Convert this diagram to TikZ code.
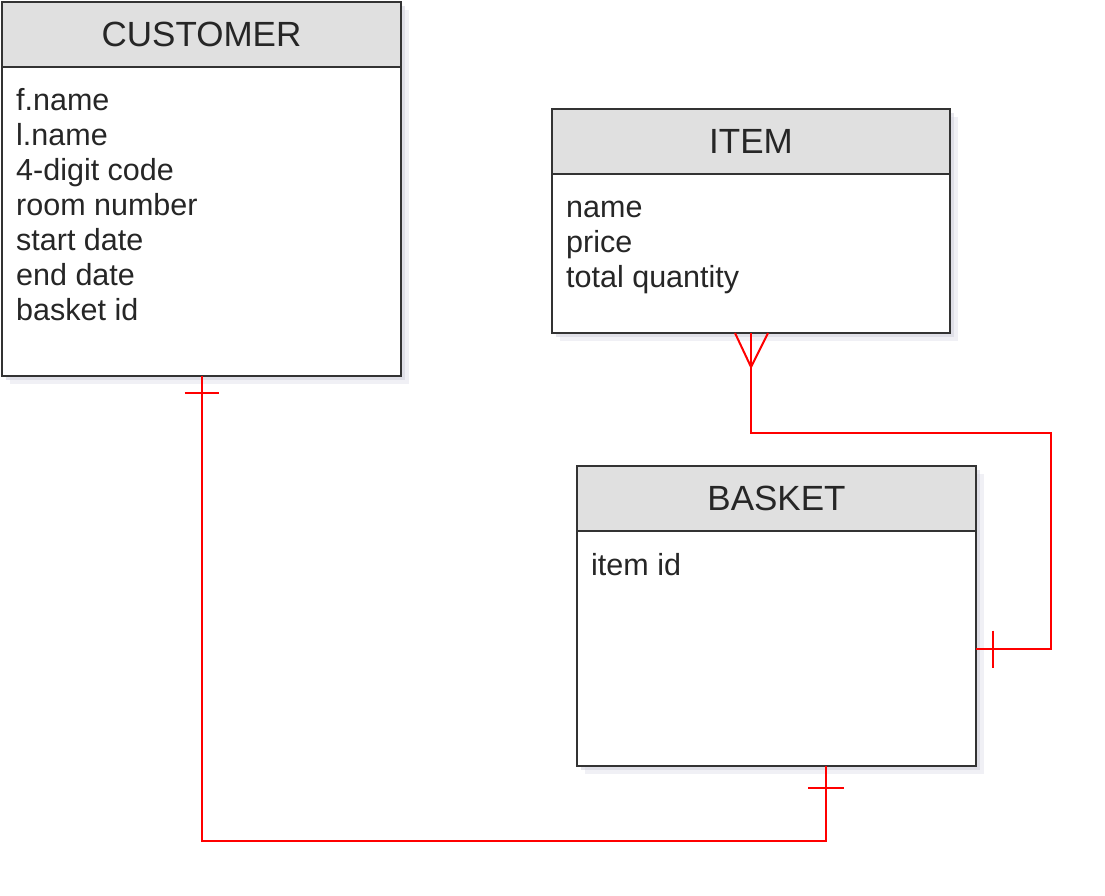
\documentclass[tikz,border=0pt]{standalone}
\usepackage{fontspec}
\usepackage{tikz}
\usetikzlibrary{shadows}
\setmainfont{Liberation Sans}
\definecolor{headgray}{HTML}{E0E0E0}
\definecolor{shadowblue}{HTML}{E2E2EC}
\definecolor{shadowdark}{HTML}{CDCDD9}
\definecolor{txtgray}{HTML}{262626}

\begin{document}
\begin{tikzpicture}[x=1pt, y=-1pt,
    box/.style={draw=black!80, line width=2pt, rectangle, inner sep=0pt, outer sep=0pt,
        drop shadow={shadow xshift=8pt, shadow yshift=-8pt, fill=shadowblue},
        drop shadow={shadow xshift=4pt, shadow yshift=-4pt, fill=shadowdark}},
    header/.style={box, fill=headgray, text=txtgray, font=\fontsize{35}{40}\selectfont},
    entbody/.style={box, fill=white},
    attr/.style={anchor=west, inner sep=0pt, text height=22pt, text depth=0pt, text=txtgray, font=\fontsize{30.5}{35}\selectfont},
    rel/.style={draw=red, line width=2pt}]
\useasboundingbox (0,0) rectangle (1105,895);
% Draw entities
\node[header, minimum width=399pt, minimum height=65pt, anchor=north west] (customer) at (2,2) {CUSTOMER};
\node[entbody, minimum width=399pt, minimum height=309pt, anchor=north] (customerbody) at (customer.south) {};
\node[header, minimum width=398pt, minimum height=65pt, anchor=north west] (item) at (552,109) {ITEM};
\node[entbody, minimum width=398pt, minimum height=159pt, anchor=north] (itembody) at (item.south) {};
\node[header, minimum width=399pt, minimum height=65pt, anchor=north west] (basket) at (577,466) {BASKET};
\node[entbody, minimum width=399pt, minimum height=235pt, anchor=north] (basketbody) at (basket.south) {};
% Draw attributes
\foreach \a [count=\i] in {f.name, l.name, 4-digit code, room number, start date, end date, basket id}
    \node[attr] (customerattr\i) at (16, 64+35*\i) {\a};
\foreach \a [count=\i] in {name, price, total quantity}
    \node[attr] (itemattr\i) at (566, 171+35*\i) {\a};
\node[attr] (basketattr1) at (591, 564) {item id};
% Draw relations
\coordinate (bendone) at (826,841);
\coordinate (bendtwo) at (1051,433);
\coordinate (basketfoot) at (bendone |- basketbody.south);
\draw[rel] (customerbody.south) |- (bendone) -- (basketfoot);
\draw[rel] (itembody.south) |- (bendtwo) |- (basketbody.east);
% Draw ends
\draw[rel] ([shift={(-17,17)}]customerbody.south) -- ++(34,0);
\draw[rel] ([shift={(-18,22)}]basketfoot) -- ++(36,0);
\draw[rel] ([shift={(17,-18)}]basketbody.east) -- ++(0,37);
\draw[rel] ([xshift=-16pt]itembody.south) -- ([yshift=-34pt]itembody.south) -- ([xshift=17pt]itembody.south);
\end{tikzpicture}
\end{document}
